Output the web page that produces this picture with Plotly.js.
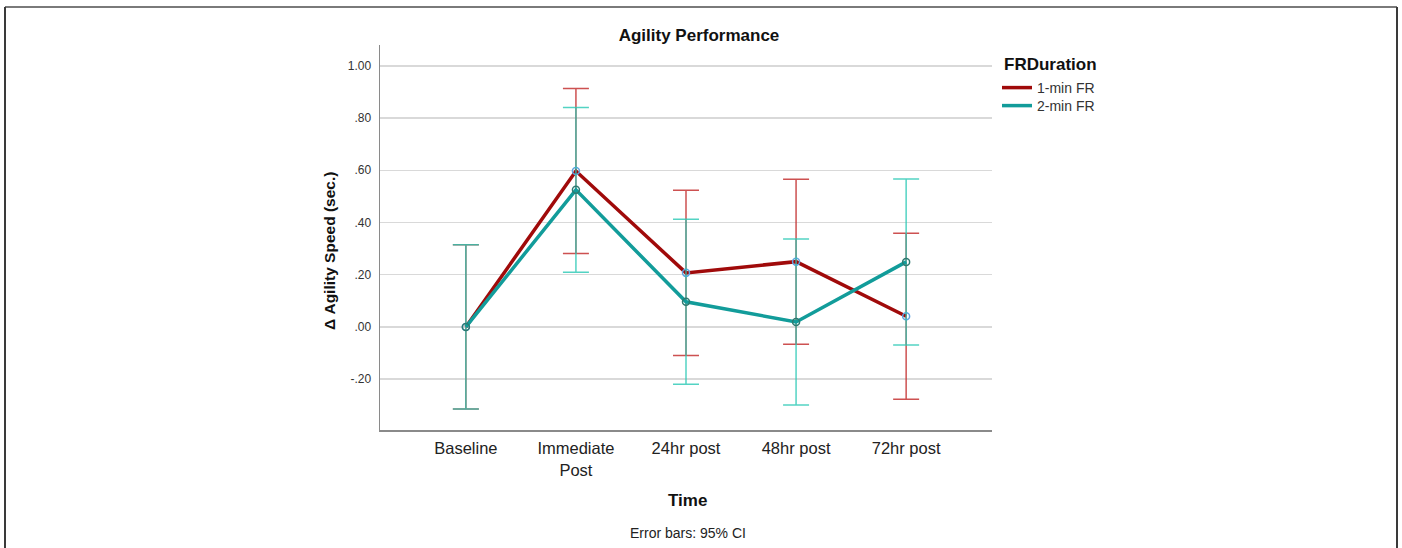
<!DOCTYPE html>
<html>
<head>
<meta charset="utf-8">
<script src="https://cdn.plot.ly/plotly-3.0.1.min.js"></script>
<style>html,body{margin:0;padding:0;background:#fff;}#chart{width:1402px;height:548px;}</style>
</head>
<body>
<div id="chart"></div>
<script>
const categories = ["Baseline", "Immediate<br>Post", "24hr post", "48hr post", "72hr post"];
const seriesNames = ["1-min FR", "2-min FR"];
const legendTitle = "FRDuration";
const mean1min = [0.000, 0.597, 0.207, 0.250, 0.041];
const ci1min = [0.315, 0.316, 0.317, 0.316, 0.318];
const mean2min = [0.000, 0.525, 0.096, 0.019, 0.249];
const ci2min = [0.315, 0.316, 0.316, 0.318, 0.318];
const yTickVals = [-0.2, 0, 0.2, 0.4, 0.6, 0.8, 1.0];
const yTickText = ["-.20", ".00", ".20", ".40", ".60", ".80", "1.00"];

const FONT = "Liberation Sans, Arial, sans-serif";
const RED = "#a00a0a", TEAL = "#129c9a";

const traces = [
  {
    x: categories, y: mean1min, name: seriesNames[0], type: "scatter", mode: "lines+markers",
    showlegend: false,
    line: {color: RED, width: 3.5},
    marker: {symbol: "circle-open", size: 7, color: "#5fa3e0", line: {width: 1.5}},
    error_y: {type: "data", array: ci1min, visible: true, color: "rgba(196,50,50,0.85)", thickness: 1.5, width: 13}
  },
  {
    x: categories, y: mean2min, name: seriesNames[1], type: "scatter", mode: "lines+markers",
    showlegend: false,
    line: {color: TEAL, width: 3.5},
    marker: {symbol: "circle-open", size: 7, color: "#2e7a70", line: {width: 1.5}},
    error_y: {type: "data", array: ci2min, visible: true, color: "rgba(40,200,180,0.8)", thickness: 1.5, width: 13}
  },
  {x: [null], y: [null], name: seriesNames[0], type: "scatter", mode: "lines", legend: "legend",
   line: {color: RED, width: 3.5}, hoverinfo: "skip"},
  {x: [null], y: [null], name: seriesNames[1], type: "scatter", mode: "lines", legend: "legend2",
   line: {color: TEAL, width: 3.5}, hoverinfo: "skip"}
];

const L = 380, PW = 612, B = 430, PH = 385;
const px = v => (v - L) / PW;
const py = v => (B - v) / PH;

const legendBase = {
  x: px(997), xanchor: "left", yanchor: "top",
  font: {size: 14, color: "#333", family: FONT},
  bgcolor: "rgba(0,0,0,0)", itemwidth: 30, tracegroupgap: 0
};

const layout = {
  width: 1402, height: 548,
  margin: {l: 380, r: 410, t: 45, b: 118, pad: 0},
  paper_bgcolor: "#ffffff", plot_bgcolor: "#ffffff",
  font: {family: FONT, color: "#222"},
  showlegend: true,
  title: {text: "<b>Agility Performance</b>", font: {size: 17, color: "#111", family: FONT},
          x: 699 / 1402, xref: "container", xanchor: "center", y: 1 - 35/548, yref: "container", yanchor: "middle"},
  xaxis: {
    type: "category", range: [-0.78, 4.78],
    showgrid: false, zeroline: false,
    showline: true, linecolor: "#8a8a8a", linewidth: 1.5,
    ticks: "", tickfont: {size: 16.5, color: "#222", family: FONT}, ticklabelstandoff: 3
  },
  yaxis: {
    range: [-0.395, 1.08],
    tickvals: yTickVals, ticktext: yTickText,
    tickfont: {size: 12, color: "#333", family: FONT},
    ticks: "", ticklabelstandoff: 5,
    showgrid: true, gridcolor: "#d9d9d9", gridwidth: 1.5,
    zeroline: false,
    showline: true, linecolor: "#8a8a8a", linewidth: 1.5
  },
  legend: Object.assign({}, legendBase, {y: py(72)}),
  legend2: Object.assign({}, legendBase, {y: py(90)}),
  annotations: [
    {text: "<b>" + legendTitle + "</b>", xref: "paper", yref: "paper",
     x: px(1002), y: py(64), xanchor: "left", yanchor: "middle",
     showarrow: false, font: {size: 17, color: "#111", family: FONT}},
    {text: "<b>Δ Agility Speed (sec.)</b>", xref: "paper", yref: "paper",
     x: px(330), y: py(251), xanchor: "center", yanchor: "middle",
     textangle: -90, showarrow: false, font: {size: 15.5, color: "#111", family: FONT}},
    {text: "<b>Time</b>", xref: "paper", yref: "paper",
     x: px(687), y: py(500), xanchor: "center", yanchor: "middle",
     showarrow: false, font: {size: 17, color: "#111", family: FONT}},
    {text: "Error bars: 95% CI", xref: "paper", yref: "paper",
     x: px(688), y: py(533), xanchor: "center", yanchor: "middle",
     showarrow: false, font: {size: 14, color: "#222", family: FONT}}
  ],
  shapes: [
    {type: "line", xref: "paper", yref: "paper", x0: px(5), x1: px(1397),
     y0: py(7), y1: py(7), line: {color: "#7a7a7a", width: 2}},
    {type: "line", xref: "paper", yref: "paper", x0: px(5), x1: px(5),
     y0: py(7), y1: py(560), line: {color: "#3a3a3a", width: 2}},
    {type: "line", xref: "paper", yref: "paper", x0: px(1397), x1: px(1397),
     y0: py(7), y1: py(560), line: {color: "#3a3a3a", width: 2}}
  ]
};

Plotly.newPlot("chart", traces, layout, {displayModeBar: false, staticPlot: true});
</script>
</body>
</html>
